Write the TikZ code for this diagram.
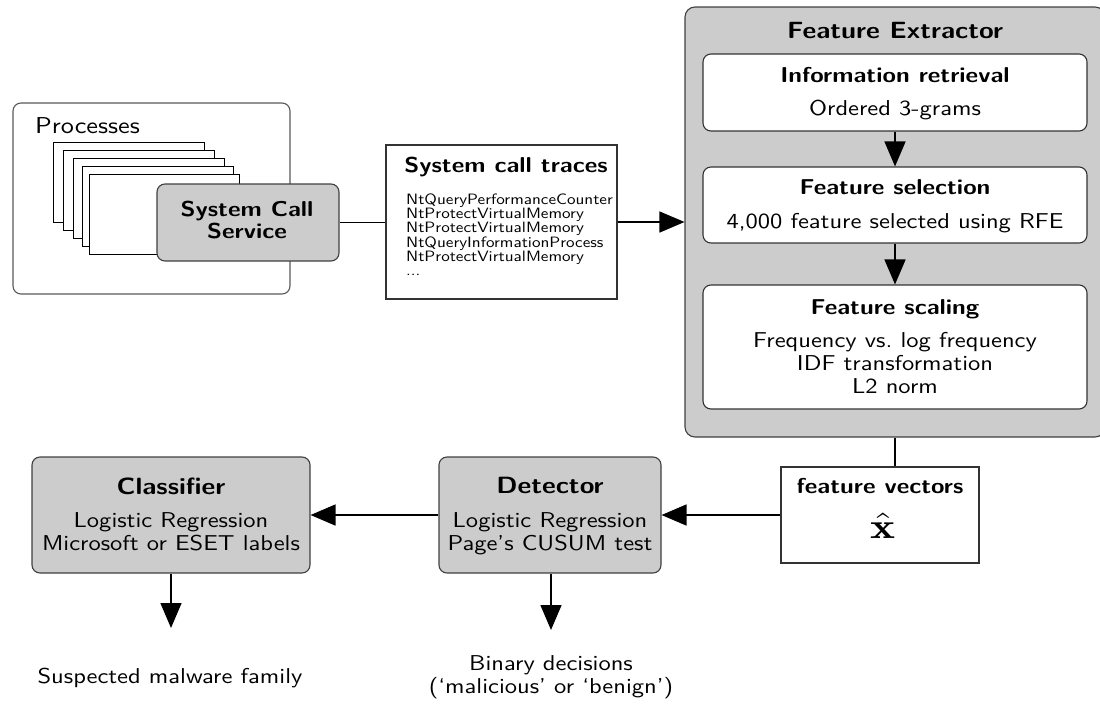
\documentclass[tikz,border=0pt]{standalone}
\usepackage{fontspec}
\usepackage{graphicx}
\setsansfont{lmsans10-regular.otf}[BoldFont=lmsans10-bold.otf, FakeStretch=1.14]
\renewcommand\familydefault{\sfdefault}
\usetikzlibrary{arrows.meta}

\newcommand\bodyfont{\fontsize{21.5}{23}\selectfont}
\newcommand\titlefont{\fontsize{21.5}{21.5}\selectfont\bfseries}
\newcommand\bigtitlefont{\fontsize{23.5}{25}\selectfont\bfseries}
\newcommand\tracefont{\fontsize{15}{14.2}\selectfont}

% multi-line nodes are placed by the baseline of their last line
\tikzset{
  graybox/.style={draw=black!75, fill=black!20, line width=1.1pt, rounded corners=8pt, inner sep=0pt},
  plainbox/.style={draw=black!80, fill=white, line width=1.1pt, inner sep=0pt},
  roundbox/.style={plainbox, rounded corners=8pt},
  procbox/.style={draw=black, fill=white, line width=0.9pt, inner sep=0pt, minimum width=151pt, minimum height=80pt},
  flow/.style={line width=1.5pt, -{Triangle[length=25pt,width=21pt]}},
  link/.style={line width=1.5pt},
  ttl/.style={font=\titlefont, anchor=base, inner sep=0pt, align=center},
  bigttl/.style={font=\bigtitlefont, anchor=base, inner sep=0pt, align=center},
  txt/.style={font=\bodyfont, anchor=base, inner sep=0pt, align=center},
}

\begin{document}
\begin{tikzpicture}[x=1pt, y=-1pt]
\useasboundingbox (0,0) rectangle (1100,704);

% --- processes and the system call service ---
\node[roundbox, draw=black!65, minimum width=277pt, minimum height=191pt] (proc) at (151.5,198.5) {};
\node[anchor=base west, inner sep=0pt, font=\fontsize{23}{25}\selectfont] (proctxt) at (35,133) {Processes};
\node[procbox] (p1) at (128.5,182) {};
\node[procbox] (p2) at (138.5,190) {};
\node[procbox] (p3) at (148.5,198) {};
\node[procbox] (p4) at (158,206) {};
\node[procbox, minimum width=150pt] (p5) at (164,214) {};
\node[graybox, minimum width=182pt, minimum height=77pt] (scs) at (248,222.5) {};
\node[ttl] (scstxt) at (247,238) {System Call\\Service};

% --- system call traces ---
\node[plainbox, minimum width=231pt, minimum height=154pt] (trc) at (501.5,222) {};
\node[ttl] (trctitle) at (506,172) {System call traces};
\node[anchor=base west, inner sep=0pt, font=\tracefont, align=left] (trclist) at (406,275.5)
  {NtQueryPerformanceCounter\\NtProtectVirtualMemory\\NtProtectVirtualMemory\\NtQueryInformationProcess\\NtProtectVirtualMemory\\...};

% --- feature extractor ---
\node[graybox, rounded corners=10pt, minimum width=420pt, minimum height=430pt] (fe) at (895,222) {};
\node[bigttl] (fetitle) at (895,38) {Feature Extractor};

\node[roundbox, minimum width=384pt, minimum height=77pt] (ir) at (895,92.5) {};
\node[ttl] (irtitle) at (895,82) {Information retrieval};
\node[txt] (irtxt) at (895,115) {Ordered 3-grams};

\node[roundbox, minimum width=384pt, minimum height=76pt] (fs) at (895,205) {};
\node[ttl] (fstitle) at (895,194) {Feature selection};
\node[txt] (fstxt) at (895,228) {4,000 feature selected using RFE};

\node[roundbox, minimum width=384pt, minimum height=124pt] (fsc) at (895,347) {};
\node[ttl] (fsctitle) at (895,314) {Feature scaling};
\node[txt] (fsctxt) at (895,393) {Frequency vs.\ log frequency\\IDF transformation\\L2 norm};

% --- feature vectors ---
\node[plainbox, minimum width=198pt, minimum height=96pt] (fv) at (880,515) {};
\node[ttl] (fvtitle) at (880,493) {feature vectors};
\node[anchor=base, inner sep=0pt] (fvx) at (883,538)
  {\resizebox{25pt}{25pt}{$\hat{\mathbf{x}}$}};

% --- detector and classifier ---
\node[graybox, minimum width=222pt, minimum height=116pt] (det) at (550,515) {};
\node[bigttl] (dettitle) at (550,493) {Detector};
\node[txt] (dettxt) at (550,550) {Logistic Regression\\Page's CUSUM test};

\node[graybox, minimum width=278pt, minimum height=116pt] (cls) at (171,515) {};
\node[bigttl] (clstitle) at (171,494) {Classifier};
\node[txt] (clstxt) at (171,550) {Logistic Regression\\Microsoft or ESET labels};

% --- outputs ---
\coordinate (clsout) at (171,628);
\coordinate (detout) at (551,630);
\node[txt] (clsres) at (170,683) {Suspected malware family};
\node[txt] (detres) at (551,693) {Binary decisions\\(‘malicious’ or ‘benign’)};

% --- connectors ---
\draw[link] (scs.east) -- (trc.west |- scs.east);
\draw[flow] (trc.east) -- (fe.west |- trc.east);
\draw[flow] (ir.south) -- (fs.north);
\draw[flow] (fs.south) -- (fsc.north);
\draw[link] (fe.south) -- (fe.south |- fv.north);
\draw[flow] (fv.west) -- (det.east);
\draw[flow] (det.west) -- (cls.east);
\draw[flow] (cls.south) -- (clsout);
\draw[flow] (det.south -| detout) -- (detout);
\end{tikzpicture}
\end{document}
